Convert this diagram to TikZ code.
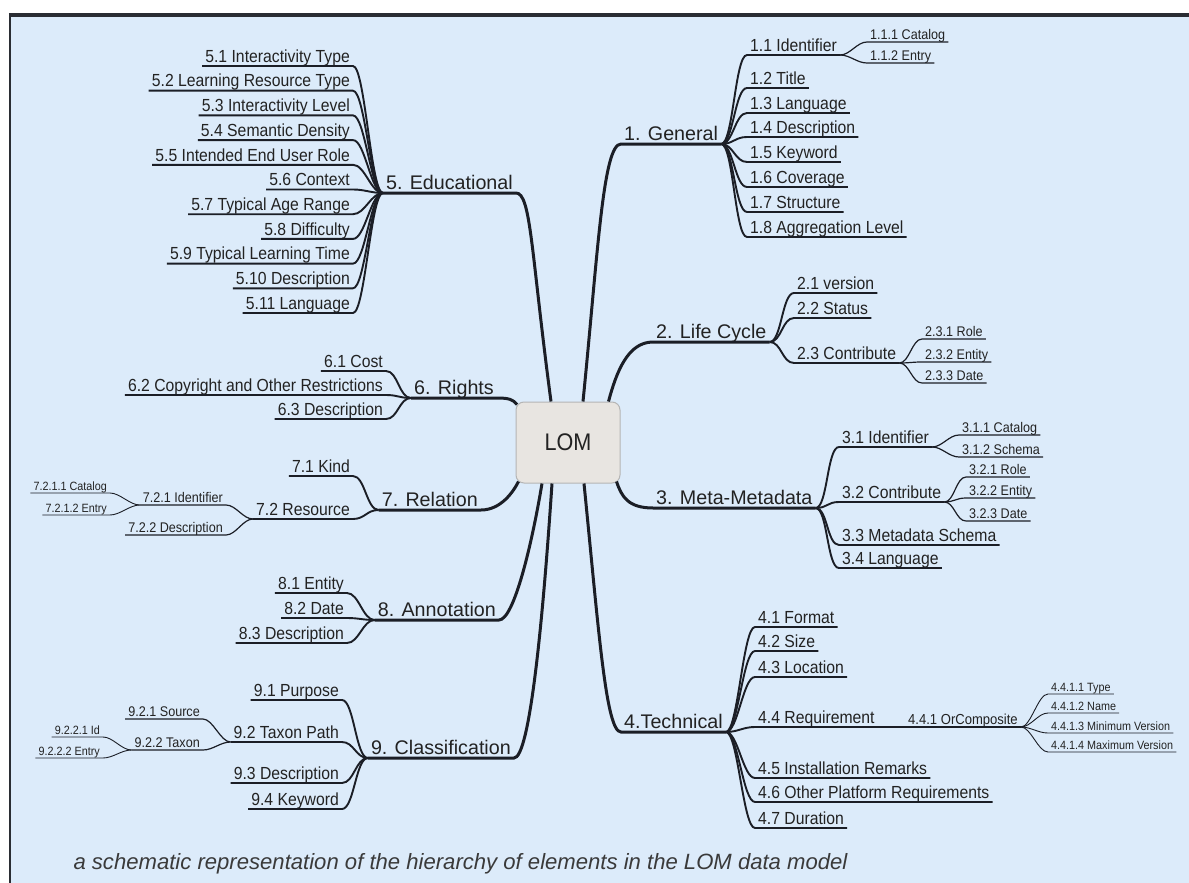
\documentclass[tikz,border=0pt]{standalone}
\usepackage{fontspec}
\setmainfont[FakeStretch=0.9]{Liberation Sans}
\newfontfamily\captionfont{Liberation Sans}
\usepackage{tikz}
\usetikzlibrary{positioning}
\definecolor{bgcolor}{HTML}{DCEBFA}
\definecolor{lomfill}{HTML}{E8E5E1}
\definecolor{lomedge}{HTML}{B5B5B5}
\definecolor{linecolor}{HTML}{1B1E26}
\definecolor{labelcolor}{HTML}{222222}
\definecolor{framecolor}{HTML}{2A2D33}
\definecolor{capcolor}{HTML}{3A3A3A}

\begin{document}
\begin{tikzpicture}[x=1pt, y=-1pt,
    rootbox/.style={rectangle, rounded corners=8pt, draw=lomedge, line width=1pt, fill=lomfill, minimum width=104pt, minimum height=81pt, text=labelcolor, font=\fontsize{24}{24}\selectfont},
    toplbl/.style={inner xsep=3pt, inner ysep=3.5pt, text depth=0pt, text=labelcolor, font=\captionfont\fontsize{19.7}{19.7}\selectfont},
    sublbl/.style={toplbl, font=\fontsize{17.5}{17.5}\selectfont},
    leaflbl/.style={toplbl, inner ysep=2.5pt, font=\fontsize{14}{14}\selectfont},
    tinylbl/.style={toplbl, inner ysep=2pt, font=\fontsize{12}{12}\selectfont},
    topline/.style={draw=linecolor, line width=3pt},
    subline/.style={draw=linecolor, line width=1.9pt},
    leafline/.style={draw=linecolor, line width=1.2pt},
    tinyline/.style={draw=linecolor, line width=0.9pt}]

    % Frame
    \useasboundingbox (0,0) rectangle (1189,883);
    \fill[bgcolor] (10,15) rectangle (1189,883);
    \draw[framecolor, line width=2.5pt] (10,883) -- (10,15);
    \draw[framecolor, line width=4pt] (8.75,15) -- (1189,15);

    % Root
    \node[rootbox] (lom) at (568,442.5) {LOM};

    % Main branches (right)
    \node[toplbl, anchor=south west] (gen) at (621,144) {1. General};
    \node[toplbl, anchor=south west] (life) at (653,342) {2. Life Cycle};
    \node[toplbl, anchor=south west] (meta) at (653,508) {3. Meta-Metadata};
    \node[toplbl, anchor=south west] (tech) at (621,732) {4.Technical};
    % Main branches (left)
    \node[toplbl, anchor=south east] (edu) at (516,193) {5. Educational};
    \node[toplbl, anchor=south east] (rights) at (497,398) {6. Rights};
    \node[toplbl, anchor=south east] (rel) at (481,510) {7. Relation};
    \node[toplbl, anchor=south east] (anno) at (499,620) {8. Annotation};
    \node[toplbl, anchor=south east] (cls) at (514,758) {9. Classification};

    \draw[topline] (gen.south east) -- (gen.south west) .. controls +(-18,0) and +(15,-150) .. ([xshift=15pt]lom.north);
    \draw[topline] (life.south east) -- (life.south west) .. controls +(-25,0) and +(8,-30) .. ([xshift=-12pt]lom.north east);
    \draw[topline] (meta.south east) -- (meta.south west) .. controls +(-25,0) and +(5,15) .. ([xshift=-4pt,yshift=2pt]lom.south east);
    \draw[topline] (tech.south east) -- (tech.south west) .. controls +(-15,0) and +(15,150) .. ([xshift=16pt]lom.south);
    \draw[topline] (edu.south west) -- (edu.south east) .. controls +(15,0) and +(-20,-150) .. ([xshift=-17pt]lom.north);
    \draw[topline] (rights.south west) -- (rights.south east) .. controls +(12,0) and +(-4,-5) .. ([xshift=1.5pt,yshift=-3pt]lom.north west);
    \draw[topline] (rel.south west) -- (rel.south east) .. controls +(20,0) and +(-5,10) .. ([xshift=3pt,yshift=2pt]lom.south west);
    \draw[topline] (anno.south west) -- (anno.south east) .. controls +(15,0) and +(-10,60) .. ([xshift=-26pt]lom.south);
    \draw[topline] (cls.south west) -- (cls.south east) .. controls +(15,0) and +(-10,150) .. ([xshift=-16pt]lom.south);

    % 1. General
    \foreach \y/\lbl [count=\x] in {55/Identifier, 88/Title, 113/Language, 137/Description, 162/Keyword, 187/Coverage, 212/Structure, 237/Aggregation Level} {
        \node[sublbl, anchor=south west] (gen\x) at (747,\y) {1.\x\ \lbl};
        \draw[subline] (gen\x.south east) -- (gen\x.south west) .. controls +(-12,0) and +(12,0) .. (gen.south east);
    }
    \foreach \y/\lbl [count=\x] in {42/Catalog, 63/Entry} {
        \node[leaflbl, anchor=south west] (genid\x) at (867,\y) {1.1.\x\ \lbl};
        \draw[leafline] (genid\x.south east) -- (genid\x.south west) .. controls +(-10,0) and +(10,0) .. (gen1.south east);
    }

    % 2. Life Cycle
    \foreach \y/\lbl [count=\x] in {293/version, 318/Status, 363/Contribute} {
        \node[sublbl, anchor=south west] (life\x) at (794,\y) {2.\x\ \lbl};
        \draw[subline] (life\x.south east) -- (life\x.south west) .. controls +(-12,0) and +(12,0) .. (life.south east);
    }
    \foreach \y/\lbl [count=\x] in {339/Role, 362/Entity, 383/Date} {
        \node[leaflbl, anchor=south west] (lifec\x) at (922,\y) {2.3.\x\ \lbl};
        \draw[leafline] (lifec\x.south east) -- (lifec\x.south west) .. controls +(-10,0) and +(10,0) .. (life3.south east);
    }

    % 3. Meta-Metadata
    \foreach \y/\lbl [count=\x] in {447/Identifier, 502/Contribute, 545/Metadata Schema, 568/Language} {
        \node[sublbl, anchor=south west] (meta\x) at (839,\y) {3.\x\ \lbl};
        \draw[subline] (meta\x.south east) -- (meta\x.south west) .. controls +(-12,0) and +(12,0) .. (meta.south east);
    }
    \foreach \y/\lbl [count=\x] in {435/Catalog, 457/Schema} {
        \node[leaflbl, anchor=south west] (metaid\x) at (959,\y) {3.1.\x\ \lbl};
        \draw[leafline] (metaid\x.south east) -- (metaid\x.south west) .. controls +(-10,0) and +(10,0) .. (meta1.south east);
    }
    \foreach \y/\lbl [count=\x] in {477/Role, 498/Entity, 521/Date} {
        \node[leaflbl, anchor=south west] (metac\x) at (966,\y) {3.2.\x\ \lbl};
        \draw[leafline] (metac\x.south east) -- (metac\x.south west) .. controls +(-10,0) and +(10,0) .. (meta2.south east);
    }

    % 4. Technical
    \foreach \y/\lbl [count=\x] in {627/Format, 651/Size, 677/Location, 727/Requirement, 778/Installation Remarks, 802/Other Platform Requirements, 828/Duration} {
        \node[sublbl, anchor=south west] (tech\x) at (755,\y) {4.\x\ \lbl};
        \draw[subline] (tech\x.south east) -- (tech\x.south west) .. controls +(-12,0) and +(12,0) .. (tech.south east);
    }
    \node[leaflbl, font=\fontsize{14.5}{14.5}\selectfont, anchor=south west] (orcomp) at (905,727) {4.4.1 OrComposite};
    \draw[leafline] (orcomp.south east) -- (orcomp.south west) .. controls +(-10,0) and +(10,0) .. (tech4.south east);
    \foreach \y/\lbl [count=\x] in {694/Type, 713/Name, 733/Minimum Version, 752/Maximum Version} {
        \node[tinylbl, anchor=south west] (orc\x) at (1048,\y) {4.4.1.\x\ \lbl};
        \draw[tinyline] (orc\x.south east) -- (orc\x.south west) .. controls +(-10,0) and +(10,0) .. (orcomp.south east);
    }

    % 5. Educational
    \foreach \x/\lbl in {1/Interactivity Type, 2/Learning Resource Type, 3/Interactivity Level, 4/Semantic Density, 5/Intended End User Role, 6/Context, 7/Typical Age Range, 8/Difficulty, 9/Typical Learning Time, 10/Description, 11/Language} {
        \pgfmathsetmacro{\y}{66 + (\x-1)*24.7}
        \node[sublbl, anchor=south east] (edu\x) at (353,\y) {5.\x\ \lbl};
        \draw[subline] (edu\x.south west) -- (edu\x.south east) .. controls +(12,0) and +(-12,0) .. (edu.south west);
    }

    % 6. Rights
    \foreach \y/\lbl [count=\x] in {371/Cost, 395/Copyright and Other Restrictions, 419/Description} {
        \node[sublbl, anchor=south east] (rights\x) at (386,\y) {6.\x\ \lbl};
        \draw[subline] (rights\x.south west) -- (rights\x.south east) .. controls +(12,0) and +(-12,0) .. (rights.south west);
    }

    % 7. Relation
    \foreach \y/\lbl [count=\x] in {476/Kind, 519/Resource} {
        \node[sublbl, anchor=south east] (rel\x) at (353,\y) {7.\x\ \lbl};
        \draw[subline] (rel\x.south west) -- (rel\x.south east) .. controls +(12,0) and +(-12,0) .. (rel.south west);
    }
    \foreach \y/\lbl [count=\x] in {505/Identifier, 535/Description} {
        \node[leaflbl, anchor=south east] (res\x) at (226,\y) {7.2.\x\ \lbl};
        \draw[leafline] (res\x.south west) -- (res\x.south east) .. controls +(10,0) and +(-10,0) .. (rel2.south west);
    }
    \foreach \y/\lbl [count=\x] in {493/Catalog, 515/Entry} {
        \node[tinylbl, anchor=south east] (resid\x) at (110,\y) {7.2.1.\x\ \lbl};
        \draw[tinyline] (resid\x.south west) -- (resid\x.south east) .. controls +(10,0) and +(-10,0) .. (res1.south west);
    }

    % 8. Annotation
    \foreach \y/\lbl [count=\x] in {593/Entity, 618/Date, 643/Description} {
        \node[sublbl, anchor=south east] (anno\x) at (347,\y) {8.\x\ \lbl};
        \draw[subline] (anno\x.south west) -- (anno\x.south east) .. controls +(12,0) and +(-12,0) .. (anno.south west);
    }

    % 9. Classification
    \foreach \y/\lbl [count=\x] in {700/Purpose, 742/Taxon Path, 783/Description, 809/Keyword} {
        \node[sublbl, anchor=south east] (cls\x) at (342,\y) {9.\x\ \lbl};
        \draw[subline] (cls\x.south west) -- (cls\x.south east) .. controls +(12,0) and +(-12,0) .. (cls.south west);
    }
    \foreach \y/\lbl [count=\x] in {719/Source, 750/Taxon} {
        \node[leaflbl, anchor=south east] (taxon\x) at (203,\y) {9.2.\x\ \lbl};
        \draw[leafline] (taxon\x.south west) -- (taxon\x.south east) .. controls +(10,0) and +(-10,0) .. (cls2.south west);
    }
    \foreach \y/\lbl [count=\x] in {737/Id, 758/Entry} {
        \node[tinylbl, anchor=south east] (taxid\x) at (103,\y) {9.2.2.\x\ \lbl};
        \draw[tinyline] (taxid\x.south west) -- (taxid\x.south east) .. controls +(10,0) and +(-10,0) .. (taxon2.south west);
    }

    % Caption
    \node[font=\captionfont\itshape\fontsize{22.1}{22.1}\selectfont, text=capcolor, anchor=base west] (caption) at (70,869) {a schematic representation of the hierarchy of elements in the LOM data model};
\end{tikzpicture}
\end{document}
